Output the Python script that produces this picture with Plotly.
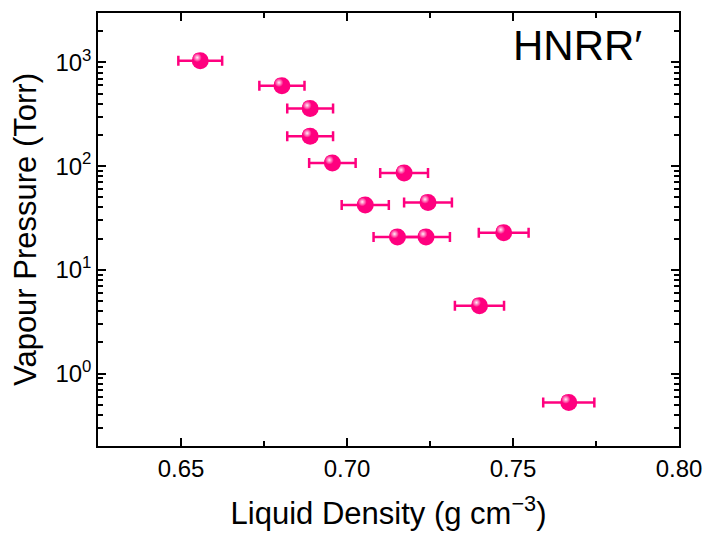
import plotly.graph_objects as go

# Data
density = [0.6558, 0.6804, 0.6889, 0.6889, 0.6956, 0.7172, 0.7055, 0.7244, 0.7152, 0.7238, 0.7472, 0.7399, 0.7668]
pressure = [1040, 597, 360, 194, 107, 85.9, 42.2, 44.7, 20.7, 20.7, 22.8, 4.51, 0.526]
density_err = [0.0066, 0.0068, 0.0069, 0.0069, 0.0070, 0.0072, 0.0071, 0.0072, 0.0072, 0.0072, 0.0075, 0.0074, 0.0077]

x_ticks = [0.65, 0.70, 0.75, 0.80]
x_tick_text = ["0.65", "0.70", "0.75", "0.80"]
y_ticks = [1, 10, 100, 1000]
y_tick_text = ["10<sup>0</sup>", "10<sup>1</sup>", "10<sup>2</sup>", "10<sup>3</sup>"]

PINK = "#FF007F"
FONT = "Liberation Sans, Arial, sans-serif"

X_RANGE = [0.625, 0.80]
Y_RANGE = [-0.699, 3.477]

fig = go.Figure()

fig.add_trace(go.Scatter(
    x=density, y=pressure, mode="markers",
    error_x=dict(type="data", array=density_err, color=PINK, thickness=2.5, width=5),
    marker=dict(size=17, color=PINK, line=dict(width=0)),
    showlegend=False,
))

# highlight of the spheres, on an overlay axis shifted a few pixels up-left
fig.add_trace(go.Scatter(
    x=density, y=pressure, mode="markers",
    xaxis="x2", yaxis="y2",
    marker=dict(size=9, color=PINK,
                gradient=dict(type="radial", color="#FFF0F7"),
                line=dict(width=0)),
    showlegend=False, hoverinfo="skip",
))

axis_common = dict(
    showline=True, linecolor="black", linewidth=1.5, mirror="allticks",
    ticks="inside", ticklen=8, tickwidth=1.5, tickcolor="black",
    showgrid=False, zeroline=False, automargin=False,
    tickfont=dict(family=FONT, size=24, color="black"),
)

fig.update_layout(
    width=705, height=534,
    margin=dict(l=98, r=26, t=13, b=88),
    paper_bgcolor="white", plot_bgcolor="white",
    font=dict(family=FONT, color="black"),
    xaxis=dict(
        **axis_common,
        range=X_RANGE,
        tickvals=x_ticks, ticktext=x_tick_text,
        minor=dict(ticks="inside", ticklen=5, tickwidth=1.5, tickcolor="black", dtick=0.025, tick0=0.625),
        title=dict(text="Liquid Density (g cm<sup>\u22123</sup>)", font=dict(family=FONT, size=31), standoff=22),
    ),
    yaxis=dict(
        **axis_common,
        type="log",
        range=Y_RANGE,
        tickvals=y_ticks, ticktext=y_tick_text,
        minor=dict(ticks="inside", ticklen=5, tickwidth=1.5, tickcolor="black", dtick="D1"),
        title=dict(text="Vapour Pressure (Torr)", font=dict(family=FONT, size=31), standoff=10),
    ),
    xaxis2=dict(overlaying="x", range=[X_RANGE[0] + 0.0009, X_RANGE[1] + 0.0009],
                visible=False, showgrid=False, zeroline=False),
    yaxis2=dict(overlaying="y", type="log", range=[Y_RANGE[0] - 0.03, Y_RANGE[1] - 0.03],
                visible=False, showgrid=False, zeroline=False),
    annotations=[dict(
        text="HNRR\u2032", xref="paper", yref="paper", x=0.826, y=0.924,
        xanchor="center", yanchor="middle", showarrow=False,
        font=dict(family=FONT, size=42, color="black"),
    )],
)

fig.write_html("out.html")
